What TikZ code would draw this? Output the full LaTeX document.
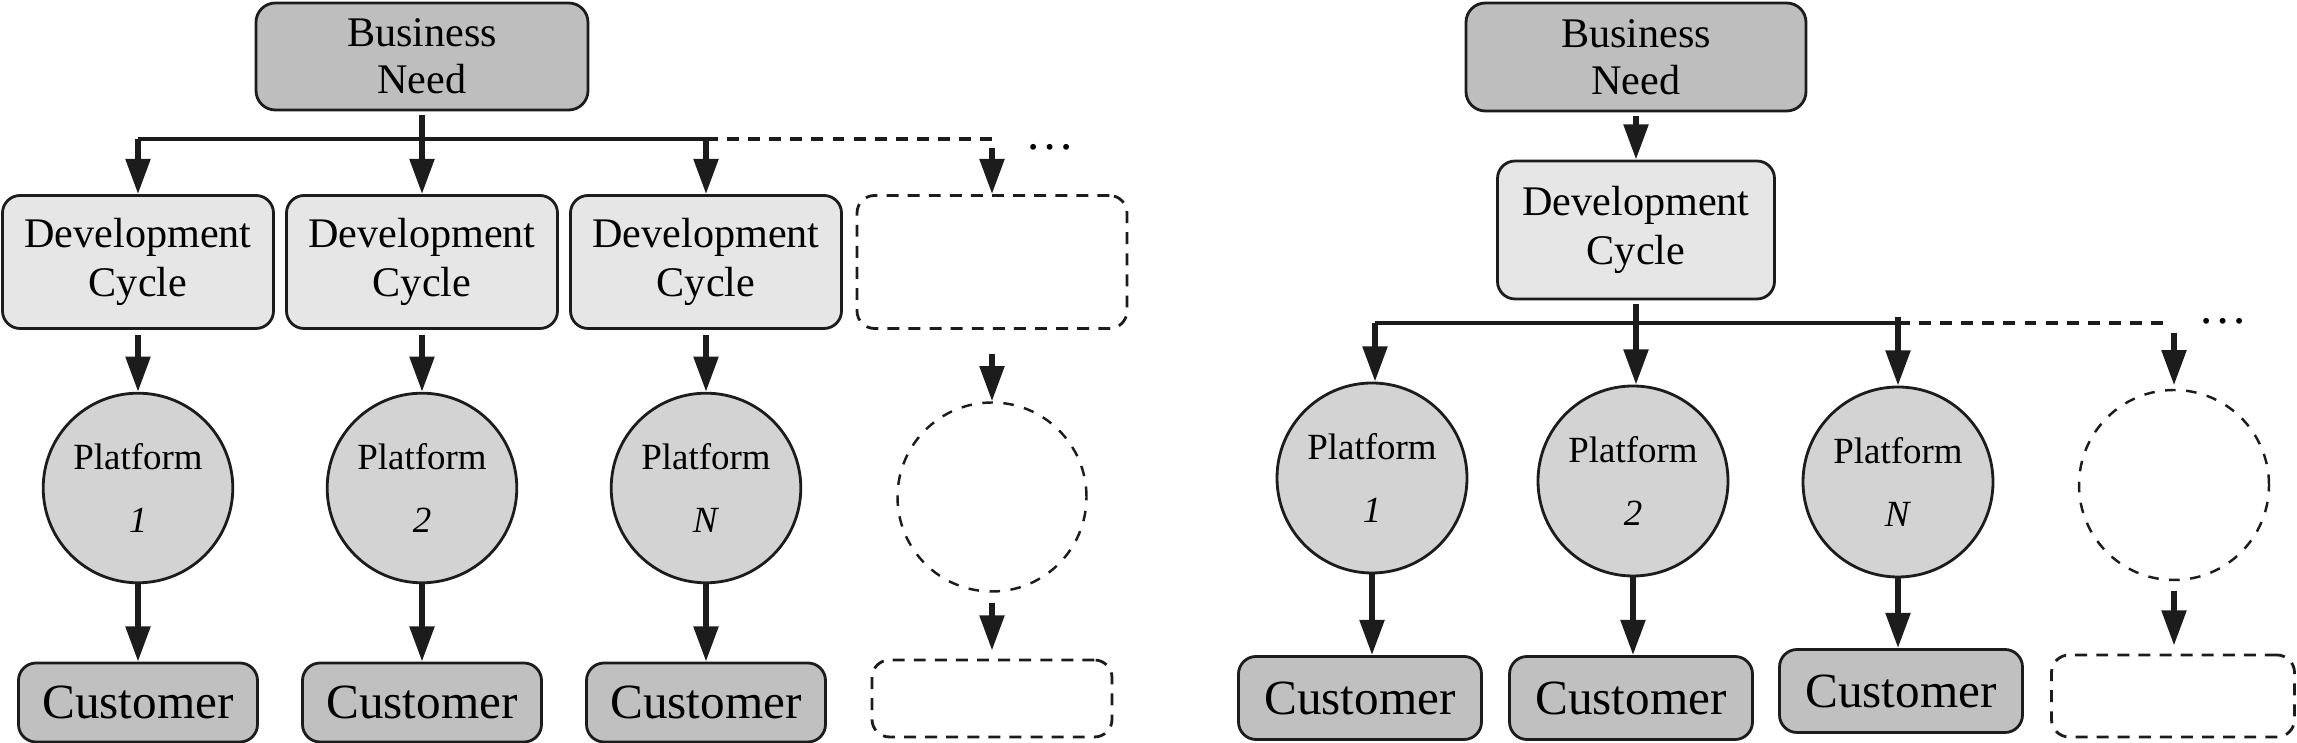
\documentclass[tikz,border=0pt]{standalone}
\usepackage{fontspec}
\setmainfont{Liberation Serif}
\usetikzlibrary{arrows.meta}
\definecolor{needgray}{HTML}{BEBEBE}
\definecolor{cyclegray}{HTML}{E6E6E6}
\definecolor{platgray}{HTML}{D3D3D3}
\definecolor{custgray}{HTML}{C0C0C0}
\definecolor{ink}{HTML}{1C1C1C}
\begin{document}
\begin{tikzpicture}
\tikzset{need/.style={draw=ink, line width=0.8pt, rounded corners=5.5pt, fill=needgray, align=center, minimum width=3.32cm, minimum height=1.07cm, font=\fontsize{12}{13.5}\selectfont},
cycle/.style={draw=ink, line width=0.8pt, rounded corners=5pt, fill=cyclegray, align=center, minimum width=2.71cm, minimum height=1.33cm, font=\fontsize{12}{14}\selectfont},
plat/.style={draw=ink, line width=0.8pt, circle, fill=platgray, align=center, minimum size=1.89cm, font=\fontsize{10.5}{18}\selectfont},
cust/.style={draw=ink, line width=0.8pt, rounded corners=5pt, fill=custgray, minimum width=2.39cm, minimum height=0.79cm, font=\fontsize{14}{16}\selectfont},
ghostbox/.style={draw=ink, line width=0.8pt, rounded corners=5pt, dash pattern=on 3.4pt off 2.6pt},
ghostplat/.style={draw=ink, line width=0.7pt, circle, minimum size=1.89cm, dash pattern=on 3pt off 3pt},
arr/.style={draw=ink, line width=1.6pt, -{Triangle[length=10pt, width=6.8pt]}},
bus/.style={draw=ink, line width=1.2pt},
ghostbus/.style={draw=ink, line width=1.2pt, dash pattern=on 3.4pt off 2.6pt},
etc/.style={inner sep=0pt, font=\fontsize{14}{14}\selectfont}}
\useasboundingbox (0,0) rectangle (22.97,-7.43);
% one business need, one cycle per platform
\node[need] (N1) at (4.22,-0.565) {Business\\Need};
\coordinate (B1a) at (1.38,-1.39);
\coordinate (B1c) at (7.06,-1.39);
\coordinate (B1d) at (9.92,-1.39);
\coordinate (B1e) at (9.92,-1.48);
\node[cycle] (C1) at (1.38,-2.62) {Development\\Cycle};
\node[cycle] (C2) at (4.22,-2.62) {Development\\Cycle};
\node[cycle] (C3) at (7.06,-2.62) {Development\\Cycle};
\node[ghostbox, minimum width=2.70cm, minimum height=1.33cm] (C4) at (9.92,-2.62) {};
\node[plat] (P1) at (1.38,-4.88) {Platform\\\textit{1}};
\node[plat] (P2) at (4.22,-4.88) {Platform\\\textit{2}};
\node[plat] (P3) at (7.06,-4.88) {Platform\\\textit{N}};
\node[ghostplat] (P4) at (9.92,-4.97) {};
\node[cust] (U1) at (1.38,-7.025) {Customer};
\node[cust] (U2) at (4.22,-7.025) {Customer};
\node[cust] (U3) at (7.06,-7.025) {Customer};
\node[ghostbox, minimum width=2.40cm, minimum height=0.77cm] (U4) at (9.92,-6.985) {};
\node[etc] (D1) at (10.50,-1.47) {…};
\draw[arr, shorten <=1pt] (N1) -- (C2);
\draw[bus] (B1a) -- (B1c);
\draw[ghostbus] (B1c) -- (B1d);
\draw[arr] (B1a) -- (C1);
\draw[arr] (B1c) -- (C3);
\draw[arr] (B1e) -- (C4);
\draw[arr, shorten <=1.5pt] (C1) -- (P1);
\draw[arr, shorten <=1.5pt] (C2) -- (P2);
\draw[arr, shorten <=1.5pt] (C3) -- (P3);
\draw[arr, shorten <=7pt] (C4) -- (P4);
\draw[arr] (P1) -- (U1);
\draw[arr] (P2) -- (U2);
\draw[arr] (P3) -- (U3);
\draw[arr, shorten <=2.8pt, shorten >=2.3pt] (P4) -- (U4);
% one business need, one cycle for all platforms
\node[need, minimum width=3.40cm, minimum height=1.08cm] (N2) at (16.36,-0.57) {Business\\Need};
\node[cycle, minimum width=2.77cm, minimum height=1.38cm] (C5) at (16.36,-2.30) {Development\\Cycle};
\coordinate (B2a) at (13.75,-3.23);
\coordinate (B2c) at (18.98,-3.23);
\coordinate (B2t) at (18.98,-3.17);
\coordinate (B2d) at (21.72,-3.23);
\coordinate (B2e) at (21.74,-3.33);
\node[plat, minimum size=1.90cm] (Q1) at (13.72,-4.78) {Platform\\\textit{1}};
\node[plat, minimum size=1.90cm] (Q2) at (16.33,-4.81) {Platform\\\textit{2}};
\node[plat, minimum size=1.90cm] (Q3) at (18.98,-4.82) {Platform\\\textit{N}};
\node[ghostplat, minimum size=1.90cm] (Q4) at (21.74,-4.85) {};
\node[cust, minimum width=2.43cm, minimum height=0.83cm] (V1) at (13.60,-6.98) {Customer};
\node[cust, minimum width=2.43cm, minimum height=0.83cm] (V2) at (16.31,-6.98) {Customer};
\node[cust, minimum width=2.43cm, minimum height=0.83cm] (V3) at (19.01,-6.91) {Customer};
\node[ghostbox, minimum width=2.43cm, minimum height=0.82cm] (V4) at (21.73,-6.96) {};
\node[etc] (D2) at (22.23,-3.21) {…};
\draw[arr, shorten <=1pt] (N2) -- (C5);
\draw[arr, shorten <=1pt] (C5) -- (C5 |- Q2.north);
\draw[bus] (B2a) -- (B2c);
\draw[ghostbus] (B2c) -- (B2d);
\draw[arr] (B2a) -- (B2a |- Q1.north);
\draw[arr] (B2t) -- (Q3);
\draw[arr, shorten >=1pt] (B2e) -- (Q4);
\draw[arr] (Q1) -- (Q1 |- V1.north);
\draw[arr] (Q2) -- (Q2 |- V2.north);
\draw[arr] (Q3) -- (Q3 |- V3.north);
\draw[arr, shorten <=2.8pt, shorten >=2.3pt] (Q4) -- (Q4 |- V4.north);
\end{tikzpicture}
\end{document}
